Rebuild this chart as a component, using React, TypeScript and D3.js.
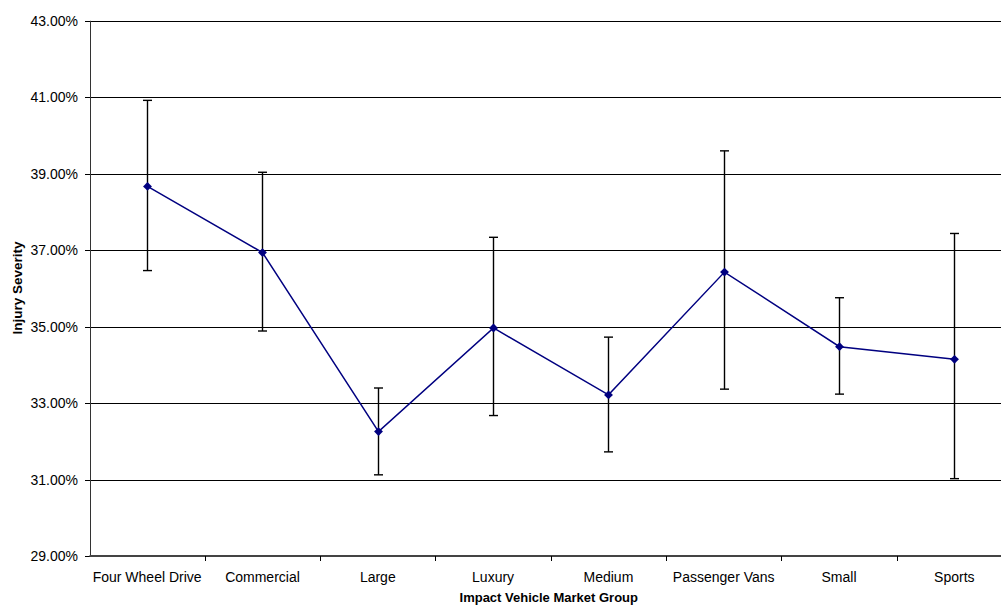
import React, { useEffect, useRef } from "react";
import * as d3 from "d3";

const categories = [
  "Four Wheel Drive",
  "Commercial",
  "Large",
  "Luxury",
  "Medium",
  "Passenger Vans",
  "Small",
  "Sports",
];
const severity = [38.67, 36.94, 32.26, 34.97, 33.22, 36.43, 34.48, 34.15];
const upper = [40.92, 39.04, 33.4, 37.34, 34.73, 39.6, 35.76, 37.44];
const lower = [36.47, 34.89, 31.13, 32.68, 31.73, 33.37, 33.24, 31.03];
const yTicks = [29, 31, 33, 35, 37, 39, 41, 43];

const W = 1001;
const H = 606;

const App = () => {
  const ref = useRef<SVGSVGElement | null>(null);

  useEffect(() => {
    const svg = d3.select(ref.current);
    svg.selectAll("*").remove();

    const font = "'Liberation Sans', Arial, sans-serif";
    const left = 89.5,
      right = 1012,
      top = 20.8,
      bottom = 556.3;

    const x = d3.scaleBand().domain(categories).range([left, right]);
    const y = d3.scaleLinear().domain([29, 43]).range([bottom, top]);
    const cx = (i: number) => (x(categories[i]) as number) + x.bandwidth() / 2;

    // gridlines
    svg
      .append("g")
      .selectAll("line")
      .data(yTicks.slice(1))
      .enter()
      .append("line")
      .attr("x1", left)
      .attr("x2", right)
      .attr("y1", (d) => Math.round(y(d)) + 0.5)
      .attr("y2", (d) => Math.round(y(d)) + 0.5)
      .attr("stroke", "#000")
      .attr("stroke-width", 1);

    // y axis
    const ya = svg.append("g");
    ya.append("line")
      .attr("x1", Math.round(left) + 0.5)
      .attr("x2", Math.round(left) + 0.5)
      .attr("y1", top)
      .attr("y2", bottom)
      .attr("stroke", "#333");
    ya.selectAll("line.tick")
      .data(yTicks)
      .enter()
      .append("line")
      .attr("class", "tick")
      .attr("x1", Math.round(left) - 5)
      .attr("x2", Math.round(left))
      .attr("y1", (d) => Math.round(y(d)) + 0.5)
      .attr("y2", (d) => Math.round(y(d)) + 0.5)
      .attr("stroke", "#000");
    ya.selectAll("text")
      .data(yTicks)
      .enter()
      .append("text")
      .attr("x", 78)
      .attr("y", (d) => y(d))
      .attr("dy", "0.35em")
      .attr("text-anchor", "end")
      .style("font-family", font)
      .style("font-size", "14px")
      .style("fill", "#000")
      .text((d) => d3.format(".2f")(d) + "%");

    // x axis
    const xa = svg.append("g");
    xa.append("line")
      .attr("x1", left)
      .attr("x2", right)
      .attr("y1", Math.round(bottom))
      .attr("y2", Math.round(bottom))
      .attr("stroke", "#444")
      .attr("stroke-width", 2);
    xa.selectAll("line.tick")
      .data(categories.slice(1))
      .enter()
      .append("line")
      .attr("class", "tick")
      .attr("x1", (d) => Math.round(x(d) as number) + 0.5)
      .attr("x2", (d) => Math.round(x(d) as number) + 0.5)
      .attr("y1", Math.round(bottom))
      .attr("y2", Math.round(bottom) + 5)
      .attr("stroke", "#000");
    xa.selectAll("text")
      .data(categories)
      .enter()
      .append("text")
      .attr("x", (d, i) => cx(i))
      .attr("y", 577)
      .attr("dy", "0.35em")
      .attr("text-anchor", "middle")
      .style("font-family", font)
      .style("font-size", "14px")
      .style("fill", "#000")
      .text((d) => d);

    // titles
    svg
      .append("text")
      .attr("x", (left + right) / 2 - 2)
      .attr("y", 602)
      .attr("text-anchor", "middle")
      .style("font-family", font)
      .style("font-size", "13px")
      .style("font-weight", "bold")
      .text("Impact Vehicle Market Group");
    svg
      .append("text")
      .attr("transform", `translate(17, 288) rotate(-90)`)
      .attr("dy", "0.35em")
      .attr("text-anchor", "middle")
      .style("font-family", font)
      .style("font-size", "13.5px")
      .style("font-weight", "bold")
      .text("Injury Severity");

    // error bars
    const eb = svg.append("g").attr("stroke", "#000").attr("stroke-width", 1.4);
    categories.forEach((c, i) => {
      const xc = Math.round(cx(i)) + 0.5;
      eb.append("line")
        .attr("x1", xc)
        .attr("x2", xc)
        .attr("y1", y(upper[i]))
        .attr("y2", y(lower[i]));
      [upper[i], lower[i]].forEach((v) => {
        eb.append("line")
          .attr("x1", xc - 4.5)
          .attr("x2", xc + 4.5)
          .attr("y1", y(v))
          .attr("y2", y(v));
      });
    });

    // line
    const line = d3
      .line<number>()
      .x((d, i) => Math.round(cx(i)) + 0.5)
      .y((d) => y(d));
    svg
      .append("path")
      .datum(severity)
      .attr("d", line)
      .attr("fill", "none")
      .attr("stroke", "#000080")
      .attr("stroke-width", 1.5);

    // markers
    const sym = d3.symbol().type(d3.symbolDiamond2).size(50);
    svg
      .append("g")
      .selectAll("path")
      .data(severity)
      .enter()
      .append("path")
      .attr("d", sym)
      .attr("transform", (d, i) => `translate(${Math.round(cx(i)) + 0.5}, ${y(d)})`)
      .attr("fill", "#000080");
  }, []);

  return (
    <svg
      ref={ref}
      width={W}
      height={H}
      style={{ position: "absolute", left: 0, top: 0, background: "#fff" }}
    />
  );
};

export default App;
